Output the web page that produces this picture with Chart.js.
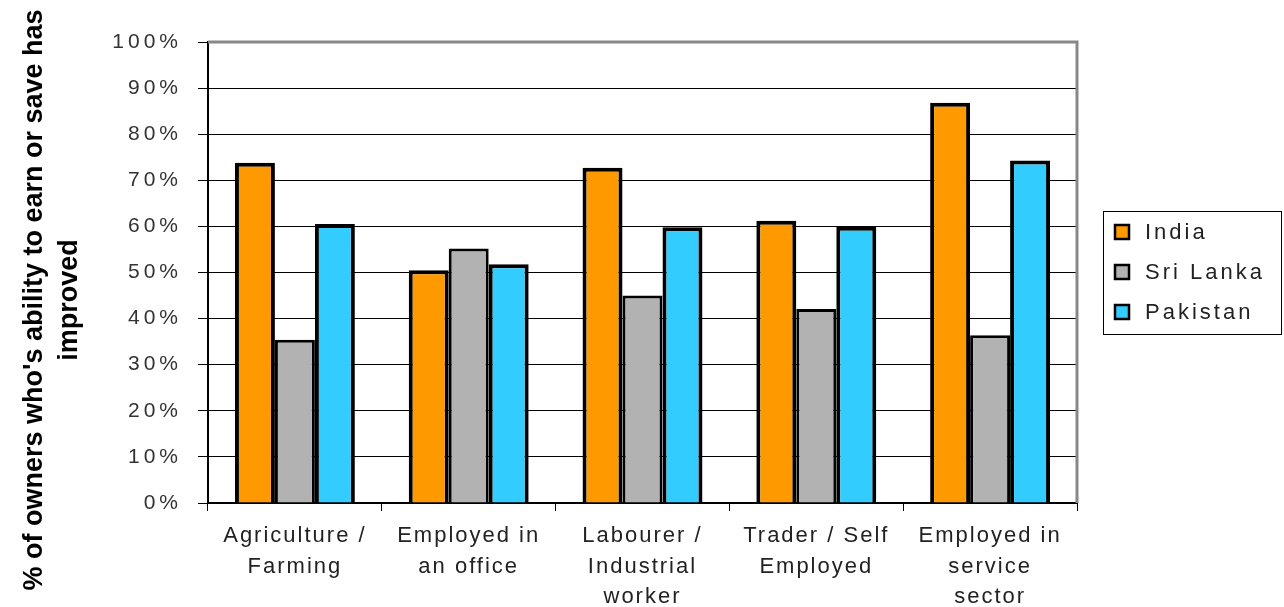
<!DOCTYPE html>
<html lang="en">
<head>
    <meta charset="UTF-8" />
    <title>Ability to earn or save by occupation</title>
    <script src="https://cdn.jsdelivr.net/npm/chart.js"></script>
    <style>
        body { margin: 0; background: #fff; }
        #chartContainer { width: 1284px; height: 607px; }
    </style>
</head>
<body>

<div id="chartContainer">
    <canvas id="myChart" width="1284" height="607"></canvas>
</div>

<script>
    // data
    const categories = [
        ['Agriculture /', 'Farming'],
        ['Employed in', 'an office'],
        ['Labourer /', 'Industrial', 'worker'],
        ['Trader / Self', 'Employed'],
        ['Employed in', 'service', 'sector']
    ];
    const seriesNames = ['India', 'Sri Lanka', 'Pakistan'];
    const india = [73.8, 50.5, 72.7, 61.2, 86.8];
    const sriLanka = [35.4, 55.2, 45.0, 42.1, 36.4];
    const pakistan = [60.5, 51.8, 59.8, 59.9, 74.3];
    const yTicks = [0, 10, 20, 30, 40, 50, 60, 70, 80, 90, 100];
    const yTitle = ["% of owners who's ability to earn or save has", 'improved'];

    const colors = ['#FF9900', '#B2B2B2', '#33CCFF'];
    const FONT = '"Liberation Sans", Arial, sans-serif';

    // spaced-out label text like the original export
    const spacingPlugin = {
        id: 'spacing',
        beforeDraw(chart) {
            const gaps = { x: '2px', y: '4px' };
            for (const id of ['x', 'y']) {
                const s = chart.scales[id];
                if (s._spaced) continue;
                const orig = s.drawLabels;
                s.drawLabels = function (area) {
                    const c = this.ctx;
                    c.save();
                    c.letterSpacing = gaps[id];
                    orig.call(this, area);
                    c.restore();
                };
                s._spaced = true;
            }
        }
    };

    // gray frame on top and right of the plot area
    const framePlugin = {
        id: 'frame',
        afterDraw(chart) {
            const { ctx, chartArea: a } = chart;
            ctx.save();
            ctx.strokeStyle = '#888888';
            ctx.lineWidth = 3;
            ctx.beginPath();
            ctx.moveTo(a.left, a.top);
            ctx.lineTo(a.right, a.top);
            ctx.lineTo(a.right, a.bottom);
            ctx.stroke();
            ctx.restore();
        }
    };

    // rotated y title, drawn by hand to place it like the reference
    const titlePlugin = {
        id: 'ytitle',
        afterDraw(chart) {
            const ctx = chart.ctx;
            ctx.save();
            ctx.translate(35, 300);
            ctx.rotate(-Math.PI / 2);
            ctx.font = 'bold 27px ' + FONT;
            ctx.fillStyle = '#000';
            ctx.textAlign = 'center';
            ctx.textBaseline = 'middle';
            yTitle.forEach((line, i) => ctx.fillText(line, 0, i * 35));
            ctx.restore();
        }
    };

    // boxed legend on the right
    const legendPlugin = {
        id: 'boxLegend',
        afterDraw(chart) {
            const ctx = chart.ctx;
            ctx.save();
            ctx.strokeStyle = '#000';
            ctx.lineWidth = 1;
            ctx.strokeRect(1103.5, 211.5, 178, 123);
            ctx.font = '22px ' + FONT;
            ctx.letterSpacing = '3px';
            ctx.textBaseline = 'middle';
            chart.data.datasets.forEach((ds, i) => {
                const y = 232 + i * 40;
                ctx.fillStyle = ds.backgroundColor;
                ctx.fillRect(1115, y - 7, 14, 14);
                ctx.lineWidth = 2.5;
                ctx.strokeRect(1115, y - 7, 14, 14);
                ctx.fillStyle = '#222';
                ctx.fillText(ds.label, 1145, y + 1);
            });
            ctx.restore();
        }
    };

    const ctx = document.getElementById('myChart').getContext('2d');
    const barSets = [india, sriLanka, pakistan].map((vals, i) => ({
        label: seriesNames[i],
        data: vals,
        backgroundColor: colors[i],
        borderColor: '#000',
        borderWidth: i === 1 ? 3 : 4,
        barPercentage: 1,
        categoryPercentage: 0.69
    }));

    new Chart(ctx, {
        type: 'bar',
        data: { labels: categories, datasets: barSets },
        options: {
            responsive: false,
            animation: false,
            layout: { padding: { top: 42, right: 207, left: 0, bottom: 0 } },
            plugins: {
                legend: { display: false },
                tooltip: { enabled: false }
            },
            scales: {
                x: {
                    afterFit(s) { s.height = 104; },
                    grid: {
                        offset: true,
                        drawOnChartArea: false,
                        drawTicks: true,
                        tickLength: 8,
                        color: '#000',
                        lineWidth: 1
                    },
                    border: { color: '#000', width: 2 },
                    ticks: {
                        color: '#222',
                        padding: 10,
                        maxRotation: 0,
                        autoSkip: false,
                        font: { family: FONT, size: 22, lineHeight: 1.38 }
                    }
                },
                y: {
                    min: 0,
                    max: 100,
                    afterFit(s) { s.width = 208; },
                    afterBuildTicks(s) { s.ticks = yTicks.map(v => ({ value: v })); },
                    grid: {
                        color: '#000',
                        lineWidth: 1,
                        tickLength: 10
                    },
                    border: { color: '#000', width: 2 },
                    ticks: {
                        color: '#333',
                        padding: 16,
                        font: { family: FONT, size: 21 },
                        callback: v => v + '%'
                    }
                }
            }
        },
        plugins: [spacingPlugin, framePlugin, titlePlugin, legendPlugin]
    });
</script>

</body>
</html>
